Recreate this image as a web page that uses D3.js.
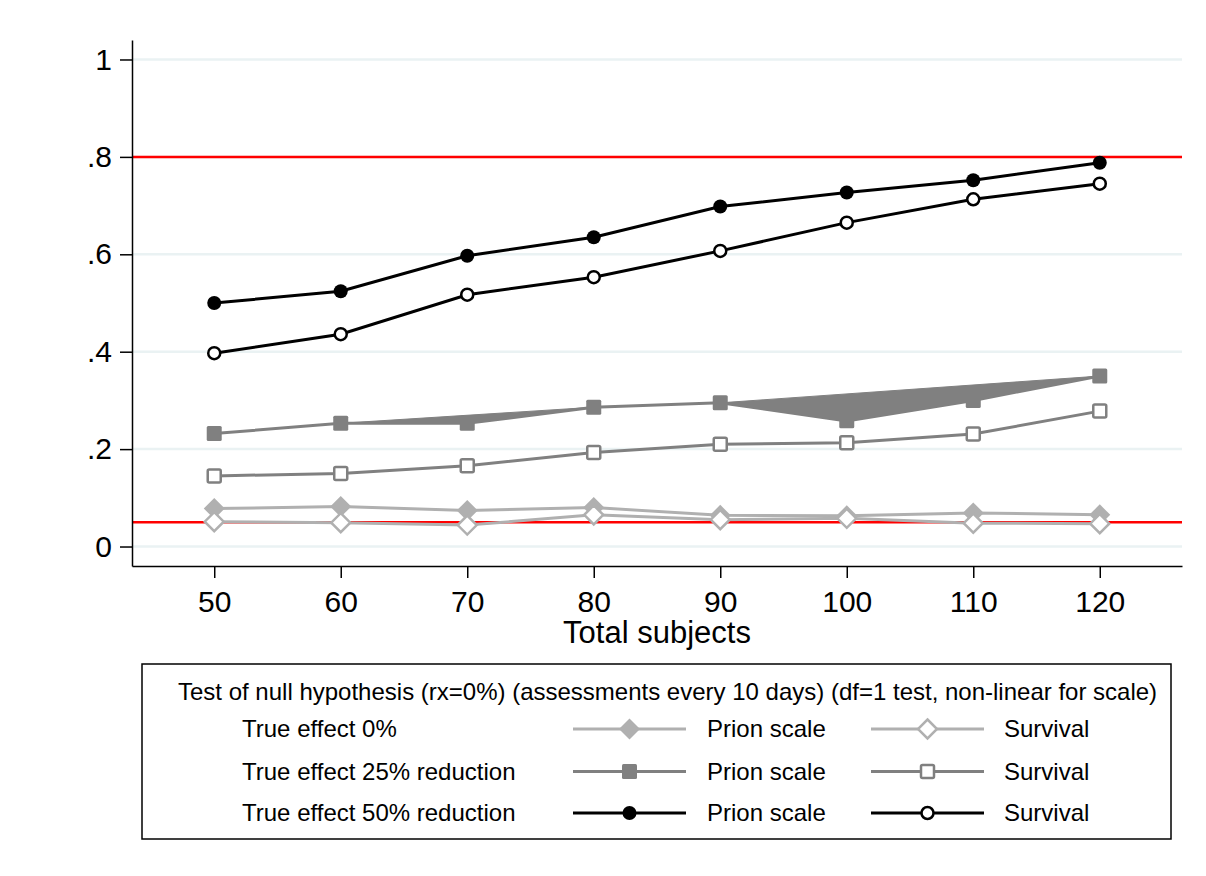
<!DOCTYPE html>
<html lang="en">
<head>
  <meta charset="UTF-8">
  <title>Power by total subjects</title>
  <script src="https://d3js.org/d3.v7.min.js"></script>
  <style>
    body { margin: 0; background: #fff; }
    svg { display: block; font-family: "Liberation Sans", Arial, sans-serif; }
    .axis path, .axis line { stroke: #000; stroke-width: 1.5; }
    .axis text { font-size: 30px; fill: #000; }
  </style>
</head>
<body>
<svg id="chart" width="1206" height="876"></svg>

<script>
  // data
  const subjects = [50, 60, 70, 80, 90, 100, 110, 120];
  const null0Prion    = [0.078, 0.082, 0.074, 0.080, 0.064, 0.063, 0.069, 0.065];
  const null0Survival = [0.051, 0.049, 0.044, 0.065, 0.055, 0.058, 0.048, 0.047];
  const red25Prion    = [0.232, 0.253, 0.253, 0.286, 0.295, 0.258, 0.300, 0.350];
  const red25Survival = [0.145, 0.150, 0.166, 0.193, 0.210, 0.213, 0.231, 0.278];
  const red50Prion    = [0.500, 0.524, 0.597, 0.635, 0.698, 0.727, 0.752, 0.788];
  const red50Survival = [0.397, 0.436, 0.517, 0.553, 0.607, 0.665, 0.713, 0.745];
  // stretches of the 25% prion line that came out filled in the original
  const red25PrionFilled = [[1, 3], [4, 7]];

  const yTicks = [0, 0.2, 0.4, 0.6, 0.8, 1];
  const refLines = [0.8, 0.05];
  const legendTitle = "Test of null hypothesis (rx=0%) (assessments every 10 days) (df=1 test, non-linear for scale)";
  const legendRows = ["True effect 0%", "True effect 25% reduction", "True effect 50% reduction"];
  const keyLabels = ["Prion scale", "Survival"];

  const light = "#b0b0b0", mid = "#808080", dark = "#000000";

  const series = [
    { values: null0Prion,    color: light, shape: "diamond", open: false },
    { values: null0Survival, color: light, shape: "diamond", open: true },
    { values: red25Prion,    color: mid,   shape: "square",  open: false, filled: red25PrionFilled },
    { values: red25Survival, color: mid,   shape: "square",  open: true },
    { values: red50Prion,    color: dark,  shape: "circle",  open: false },
    { values: red50Survival, color: dark,  shape: "circle",  open: true }
  ];

  const svg = d3.select("#chart");
  const plotL = 132, plotR = 1182, plotT = 40, plotB = 566;

  const x = d3.scaleLinear().domain([43.5, 126.5]).range([plotL, plotR]);
  const y = d3.scaleLinear().domain([-0.04, 1.04]).range([plotB, plotT]);

  // grid
  svg.append("g")
    .selectAll("line")
    .data(yTicks)
    .join("line")
    .attr("x1", plotL).attr("x2", plotR)
    .attr("y1", d => y(d)).attr("y2", d => y(d))
    .attr("stroke", "#eaf2f3")
    .attr("stroke-width", 2.5);

  // reference lines
  svg.append("g")
    .selectAll("line")
    .data(refLines)
    .join("line")
    .attr("x1", plotL).attr("x2", plotR)
    .attr("y1", d => y(d)).attr("y2", d => y(d))
    .attr("stroke", "#ff0000")
    .attr("stroke-width", 2.5);

  // axes
  const fmt = d => d === 0 ? "0" : d === 1 ? "1" : d3.format(".1f")(d).replace(/^0/, "");
  svg.append("g")
    .attr("class", "axis")
    .attr("transform", `translate(${plotL},0)`)
    .call(d3.axisLeft(y).tickValues(yTicks).tickFormat(fmt).tickSize(12).tickPadding(8).tickSizeOuter(0));

  svg.append("g")
    .attr("class", "axis")
    .attr("transform", `translate(0,${plotB})`)
    .call(d3.axisBottom(x).tickValues(subjects).tickFormat(d3.format("d")).tickSize(12).tickPadding(13).tickSizeOuter(0));

  svg.append("text")
    .attr("x", (x(50) + x(120)) / 2)
    .attr("y", 643)
    .attr("text-anchor", "middle")
    .attr("font-size", 31)
    .text("Total subjects");

  function marker(sel, s) {
    if (s.shape === "circle") {
      sel.append("circle").attr("r", s.open ? 6 : 7);
    } else if (s.shape === "square") {
      const h = s.open ? 6.5 : 7.5;
      sel.append("rect").attr("x", -h).attr("y", -h).attr("width", 2 * h).attr("height", 2 * h).attr("rx", 1.5);
    } else {
      const h = s.open ? 9.5 : 10.5;
      sel.append("path").attr("d", `M0,${-h}L${h},0L0,${h}L${-h},0Z`);
    }
    sel.selectAll("circle,rect,path")
      .attr("fill", s.open ? "#fff" : s.color)
      .attr("stroke", s.open ? s.color : "none")
      .attr("stroke-width", s.open ? 2.5 : 0);
  }

  const line = d3.line().x((d, i) => x(subjects[i])).y(d => y(d));
  const lineAt = d3.line().x(d => x(subjects[d[0]])).y(d => y(d[1]));

  series.forEach(s => {
    const g = svg.append("g");
    (s.filled || []).forEach(([a, b]) => {
      const pts = d3.range(a, b + 1).map(i => [i, s.values[i]]);
      g.append("path")
        .attr("d", lineAt(pts) + "Z")
        .attr("fill", s.color)
        .attr("stroke", s.color)
        .attr("stroke-width", 1);
    });
    g.append("path")
      .attr("d", line(s.values))
      .attr("fill", "none")
      .attr("stroke", s.color)
      .attr("stroke-width", 3);
    g.selectAll("g")
      .data(s.values)
      .join("g")
      .attr("transform", (d, i) => `translate(${x(subjects[i])},${y(d)})`)
      .each(function () { marker(d3.select(this), s); });
  });

  // legend
  const lg = svg.append("g").attr("font-size", 24);
  lg.append("rect")
    .attr("x", 142).attr("y", 664)
    .attr("width", 1029).attr("height", 175)
    .attr("fill", "#fff").attr("stroke", "#000").attr("stroke-width", 1.5);

  function legendText(tx, ty, str) {
    lg.append("text")
      .attr("x", tx).attr("y", ty)
      .attr("dy", "0.35em")
      .text(str);
  }

  legendText(178, 692, legendTitle);

  const rowY = [729, 771.5, 813];
  const keyX = [[573, 686, 707], [871, 984, 1004]];
  legendRows.forEach((label, r) => {
    legendText(242, rowY[r], label);
    keyLabels.forEach((k, c) => {
      const s = series[r * 2 + c];
      const [x1, x2, tx] = keyX[c];
      lg.append("line")
        .attr("x1", x1).attr("x2", x2)
        .attr("y1", rowY[r]).attr("y2", rowY[r])
        .attr("stroke", s.color).attr("stroke-width", 3);
      const m = lg.append("g").attr("transform", `translate(${(x1 + x2) / 2},${rowY[r]})`);
      marker(m, s);
      legendText(tx, rowY[r], k);
    });
  });
</script>
</body>
</html>
